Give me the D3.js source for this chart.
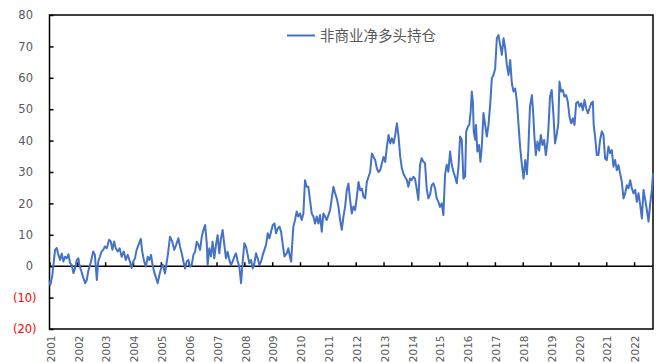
<!DOCTYPE html>
<html>
<head>
<meta charset="utf-8">
<script src="https://cdn.jsdelivr.net/npm/d3@7/dist/d3.min.js"></script>
<style>
  html, body { margin: 0; padding: 0; background: #fff; }
  svg { display: block; }
</style>
</head>
<body>
<svg id="chart" width="660" height="363"></svg>
<script>
// ---- data (decimal year, value) ----
const seriesName = "非商业净多头持仓";
const yTicks = [80, 70, 60, 50, 40, 30, 20, 10, 0, -10, -20];
const tickYears = d3.range(2001, 2023);
const dates = [
2001.00,2001.03,2001.10,2001.20,2001.26,2001.32,2001.38,2001.44,2001.50,2001.56,2001.62,2001.68,2001.74,2001.80,2001.86,2001.92,2001.98,
2002.04,2002.07,2002.13,2002.22,2002.28,2002.34,2002.39,2002.49,2002.57,2002.63,2002.70,2002.75,2002.81,2002.87,2002.93,2002.99,
2003.06,2003.14,2003.20,2003.26,2003.32,2003.38,2003.45,2003.52,2003.59,2003.67,2003.74,2003.81,2003.89,2003.95,
2004.01,2004.07,2004.13,2004.22,2004.28,2004.33,2004.40,2004.46,2004.53,2004.59,2004.65,2004.69,2004.77,2004.83,2004.89,2004.95,
2005.01,2005.07,2005.15,2005.25,2005.33,2005.41,2005.48,2005.55,2005.63,2005.69,2005.75,2005.81,2005.87,2005.93,2005.99,
2006.05,2006.11,2006.17,2006.23,2006.29,2006.35,2006.41,2006.47,2006.53,2006.59,2006.65,2006.68,2006.74,2006.80,2006.86,2006.92,2006.98,
2007.04,2007.10,2007.16,2007.22,2007.28,2007.34,2007.40,2007.46,2007.52,2007.58,2007.64,2007.70,2007.76,2007.82,2007.88,2007.94,
2008.00,2008.06,2008.12,2008.18,2008.24,2008.30,2008.36,2008.42,2008.48,2008.54,2008.60,2008.66,2008.72,2008.78,2008.84,2008.90,2008.96,
2009.02,2009.08,2009.14,2009.20,2009.26,2009.32,2009.38,2009.44,2009.52,2009.58,2009.64,2009.68,2009.72,2009.76,2009.82,2009.88,2009.94,
2010.00,2010.06,2010.12,2010.18,2010.24,2010.30,2010.36,2010.42,2010.48,2010.54,2010.60,2010.66,2010.72,2010.78,2010.84,2010.90,2010.96,
2011.02,2011.08,2011.14,2011.20,2011.26,2011.32,2011.38,2011.44,2011.50,2011.56,2011.62,2011.68,2011.74,2011.80,2011.86,2011.92,2011.98,
2012.04,2012.10,2012.16,2012.22,2012.28,2012.34,2012.40,2012.46,2012.52,2012.58,2012.64,2012.70,2012.76,2012.82,2012.88,2012.94,
2013.00,2013.06,2013.12,2013.18,2013.24,2013.30,2013.36,2013.42,2013.48,2013.54,2013.60,2013.66,2013.71,2013.77,2013.84,2013.89,2013.95,
2014.01,2014.07,2014.13,2014.19,2014.25,2014.31,2014.37,2014.43,2014.49,2014.55,2014.61,2014.67,2014.73,2014.79,2014.85,2014.91,2014.97,
2015.03,2015.09,2015.15,2015.21,2015.27,2015.33,2015.39,2015.45,2015.51,2015.57,2015.63,2015.69,2015.75,2015.81,2015.87,2015.93,2015.97,
2016.03,2016.08,2016.13,2016.17,2016.21,2016.24,2016.29,2016.32,2016.37,2016.43,2016.48,2016.53,2016.59,2016.65,2016.71,2016.77,2016.83,2016.89,2016.95,
2017.01,2017.07,2017.13,2017.19,2017.25,2017.31,2017.37,2017.43,2017.49,2017.55,2017.61,2017.67,2017.73,2017.79,2017.85,2017.91,2017.97,
2018.03,2018.09,2018.15,2018.20,2018.26,2018.33,2018.38,2018.42,2018.47,2018.53,2018.59,2018.65,2018.71,2018.77,2018.83,2018.89,2018.92,2018.98,
2019.04,2019.10,2019.16,2019.22,2019.28,2019.32,2019.38,2019.44,2019.50,2019.56,2019.62,2019.68,2019.74,2019.80,2019.86,2019.92,2019.98,
2020.04,2020.10,2020.16,2020.22,2020.28,2020.34,2020.40,2020.46,2020.52,2020.55,2020.60,2020.66,2020.72,2020.78,2020.84,2020.90,2020.96,
2021.02,2021.08,2021.14,2021.20,2021.26,2021.32,2021.38,2021.44,2021.50,2021.56,2021.62,2021.68,2021.74,2021.80,2021.86,2021.92,2021.98,
2022.04,2022.10,2022.16,2022.22,2022.28,2022.34,2022.40,2022.46,2022.52,2022.58,2022.64,2022.68
];
const netLong = [
-4.5,-6,-3,5.2,5.8,3.6,2,4,1.5,3,2.5,3.8,1,0.4,-2.2,-0.6,2,
2.5,0.5,-1.2,-3.8,-5.4,-4.4,-1.7,1.5,4.7,3.6,-4.4,1.5,3,4.7,5.2,6.3,
5.7,8.4,7.9,5.2,7.9,5.7,4.7,5.7,3,4.7,2,3.6,1.5,-0.6,
1.5,2.5,5.2,7.3,8.7,4.7,1.5,-0.1,3,2,3.6,1,-2.2,-3.8,-5.4,-2.7,
-0.6,0.5,-2.3,3.6,9.4,7.8,5.2,6.8,8.9,6.2,4.1,1.5,-0.7,1.5,2,
-0.1,0.4,3.6,4.6,7.8,6.8,5.2,9.4,11.5,13.1,7.3,0.4,5.7,3.1,7.8,2.5,6.8,
9.9,4.1,8.9,11.5,6.8,2.5,4.6,2.0,0.4,1.5,3.1,4.1,1.5,-0.1,-5.4,1.5,
7.3,6.2,3.6,0.9,2,-0.7,0.9,4.1,2.5,0.4,1.5,3.6,5.2,6.8,10.5,8.9,11,
13.1,13.6,10.5,12,12.6,11,6.8,3.1,4.1,5.7,3.0,1.4,7.3,12.6,14.7,17.4,15.8,
16.8,14.7,16.8,27.4,25.3,25.3,21,16.8,15.8,13.6,15.8,13.6,16.3,11.0,16.8,15.8,14.7,
16.3,17.9,21.6,25.3,23.2,21.6,19.0,14.7,11.6,15.8,19.0,24.2,26.3,21.0,16.8,19.0,17.9,
22.1,26.8,24.2,24.7,22.1,21.6,26.8,28.5,30.0,35.9,34.8,33.8,31.1,30.0,30.6,32.7,
34.8,33.2,38.0,41.8,39.1,40.7,39.1,41.8,45.5,41.2,34.8,31.1,29.5,28.5,27.4,25.3,27.9,
27.4,28.5,27.9,24.8,21.1,32.3,34.4,33.3,32.8,24.8,21.6,22.7,25.8,26.4,24.8,21.6,20.5,
18.9,20.0,16.3,29.1,32.3,30.1,36.5,32.3,30.1,28.5,26.4,31.2,41.3,40.3,27.9,28.5,42.9,
44.5,45.0,49.3,55.6,52.4,42.9,40.3,45.0,36.5,38.6,33.3,38.1,48.8,45.0,41.3,45.0,51.4,59.8,60.9,
63.0,72.6,73.6,70.4,67.3,72.6,69.4,64.1,60.9,65.7,58.2,55.6,56.6,52.4,45.0,37.6,32.3,
27.9,33.8,29.3,36.8,50.8,54.5,48.2,41.3,35.4,39.7,36.8,41.8,38.6,40.2,35.4,39.7,43.4,54.0,
56.1,48.7,39.1,41.8,45.5,58.8,55.6,56.1,54.0,54.5,52.4,47.6,45.5,47.1,45.0,51.9,52.4,
50.8,51.9,49.7,52.9,50.3,48.7,50.3,51.9,52.4,45.0,41.3,35.4,35.4,40.2,42.9,41.8,34.3,
33.8,38.1,36.0,37.0,31.7,33.8,30.6,32.2,29.5,26.9,21.6,23.2,25.8,24.8,27.4,24.8,23.2,
24.3,20.5,23.2,19.5,15.2,24.3,21.1,17.9,14.2,20.0,24.3,29.6
];

// ---- layout ----
const plot = { left: 49.5, right: 653, top: 15, bottom: 329 };
const gray = "#595959";
const lineColor = "#4472C4";

const svg = d3.select("#chart");
const x = d3.scaleLinear().domain([2001, d3.max(dates)]).range([plot.left, plot.right]);
const y = d3.scaleLinear().domain([-20, 80]).range([plot.bottom, plot.top]);

// plot frame
svg.append("rect")
  .attr("x", plot.left).attr("y", plot.top)
  .attr("width", plot.right - plot.left).attr("height", plot.bottom - plot.top)
  .attr("fill", "none").attr("stroke", "#000").attr("stroke-width", 1.5);

// y axis ticks (inward) and labels
const yAxis = d3.axisLeft(y).tickValues(yTicks).tickSize(-4).tickPadding(0)
  .tickFormat(d => d < 0 ? "(" + Math.abs(d) + ")" : String(d));
const gy = svg.append("g").attr("transform", `translate(${plot.left},0)`).call(yAxis);
gy.select(".domain").remove();
gy.selectAll(".tick line").attr("stroke", "#000").attr("stroke-width", 1.5);
gy.selectAll(".tick text")
  .attr("x", d => d < 0 ? -13 : -16.5)
  .attr("font-family", "DejaVu Sans, sans-serif")
  .attr("font-size", 11.5)
  .attr("fill", d => d < 0 ? "#FF0000" : gray);

// zero line with x ticks pointing up
const xAxis = d3.axisTop(x).tickValues(tickYears).tickSize(4).tickFormat("");
const gx = svg.append("g").attr("transform", `translate(0,${y(0)})`).call(xAxis);
gx.select(".domain").remove();
gx.selectAll(".tick line").attr("stroke", "#000").attr("stroke-width", 1.5);
svg.append("line")
  .attr("x1", plot.left).attr("x2", plot.right)
  .attr("y1", y(0)).attr("y2", y(0))
  .attr("stroke", "#000").attr("stroke-width", 1.5);

// rotated year labels at bottom
svg.append("g").selectAll("text").data(tickYears).join("text")
  .attr("transform", d => `translate(${x(d) + 1.5},${plot.bottom + 6.5}) rotate(-90)`)
  .attr("text-anchor", "end")
  .attr("dy", "0.35em")
  .attr("font-family", "DejaVu Sans, sans-serif")
  .attr("font-size", 10.5)
  .attr("fill", gray)
  .text(d => d);

// the series line
const data = dates.map((d, i) => ({ t: d, v: netLong[i] }));
svg.append("path")
  .datum(data)
  .attr("fill", "none")
  .attr("stroke", lineColor)
  .attr("stroke-width", 2)
  .attr("stroke-linejoin", "round")
  .attr("d", d3.line().x(d => x(d.t)).y(d => y(d.v)));

// legend
const lg = svg.append("g");
lg.append("line").attr("x1", 287).attr("x2", 315).attr("y1", 35.5).attr("y2", 35.5)
  .attr("stroke", lineColor).attr("stroke-width", 2);
lg.append("text").attr("x", 320).attr("y", 35.5).attr("dy", "0.36em")
  .attr("font-family", "Noto Sans CJK SC, sans-serif")
  .attr("font-size", 14.5)
  .attr("fill", gray)
  .text(seriesName);
</script>
</body>
</html>
